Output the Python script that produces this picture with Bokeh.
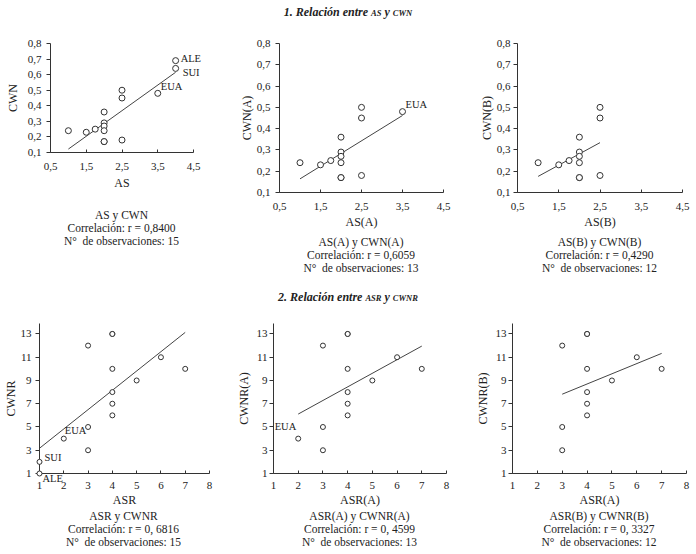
import numpy as np
from bokeh.plotting import figure
from bokeh.models import Div, FixedTicker, Range1d, ColumnDataSource
from bokeh.core.properties import value
from bokeh.layouts import row, column
from bokeh.embed import file_html
from bokeh.resources import INLINE

# ---------------- data ----------------
as_vals = [1, 1.5, 1.75, 2, 2, 2, 2, 2, 2, 2.5, 2.5, 2.5, 3.5, 4, 4]
cwn_vals = [0.24, 0.23, 0.25, 0.36, 0.29, 0.27, 0.24, 0.17, 0.17, 0.50, 0.45, 0.18, 0.48, 0.69, 0.64]
as_names = ["", "", "", "", "", "", "", "", "", "", "", "", "EUA", "ALE", "SUI"]

asr_vals = [1, 1, 2, 3, 3, 3, 4, 4, 4, 4, 4, 4, 5, 6, 7]
cwnr_vals = [1, 2, 4, 12, 5, 3, 13, 13, 10, 8, 7, 6, 9, 11, 10]
asr_names = ["ALE", "SUI", "EUA", "", "", "", "", "", "", "", "", "", "", "", ""]

excl_A = ["ALE", "SUI"]
excl_B = ["ALE", "SUI", "EUA"]

as_xticks = [0.5, 1.5, 2.5, 3.5, 4.5]
as_xtick_labels = ["0,5", "1,5", "2,5", "3,5", "4,5"]
cwn_yticks = [0.1, 0.2, 0.3, 0.4, 0.5, 0.6, 0.7, 0.8]
cwn_ytick_labels = ["0,1", "0,2", "0,3", "0,4", "0,5", "0,6", "0,7", "0,8"]
asr_xticks = [1, 2, 3, 4, 5, 6, 7, 8]
asr_xtick_labels = ["1", "2", "3", "4", "5", "6", "7", "8"]
cwnr_yticks = [1, 3, 5, 7, 9, 11, 13]
cwnr_ytick_labels = ["1", "3", "5", "7", "9", "11", "13"]

title1_parts = ["1. Relación entre ", "AS", " y ", "CWN"]
title2_parts = ["2. Relación entre ", "ASR", " y ", "CWNR"]

cap1 = ["AS y CWN", "Correlación: r = 0,8400", "N°  de observaciones: 15"]
cap2 = ["AS(A) y CWN(A)", "Correlación: r = 0,6059", "N°  de observaciones: 13"]
cap3 = ["AS(B) y CWN(B)", "Correlación: r = 0,4290", "N°  de observaciones: 12"]
cap4 = ["ASR y CWNR", "Correlación: r = 0, 6816", "N°  de observaciones: 15"]
cap5 = ["ASR(A) y CWNR(A)", "Correlación: r = 0, 4599", "N°  de observaciones: 13"]
cap6 = ["ASR(B) y CWNR(B)", "Correlación: r = 0, 3327", "N°  de observaciones: 12"]

FONT = "Liberation Serif"
TXT = "#222222"


def subset(xs, ys, names, excl):
    keep = [i for i, n in enumerate(names) if n not in excl]
    return [xs[i] for i in keep], [ys[i] for i in keep], [names[i] for i in keep]


def panel(xs, ys, names, xr, yr, xticks, xtl, yticks, ytl, xlabel, ylabel,
          w, h, mbl, mbr, mbt, mbb, msize, xst, xls, yst, yls, offsets):
    p = figure(width=w, height=h, x_range=Range1d(*xr), y_range=Range1d(*yr),
               output_backend="svg", toolbar_location=None,
               min_border_left=mbl, min_border_right=mbr,
               min_border_top=mbt, min_border_bottom=mbb, frame_align=False)
    p.grid.visible = False
    p.outline_line_color = None
    p.background_fill_color = "white"
    p.border_fill_color = "white"

    k, b = np.polyfit(np.array(xs, float), np.array(ys, float), 1)
    x0, x1 = min(xs), max(xs)
    p.line([x0, x1], [k * x0 + b, k * x1 + b], line_color="#444444", line_width=1)
    p.scatter(xs, ys, marker="circle", size=msize, fill_color="white",
              line_color="#333333", line_width=1, level="overlay")

    for al in ("left", "right"):
        sel = [i for i, n in enumerate(names) if n and n in offsets and offsets[n][2] == al]
        if not sel:
            continue
        src = ColumnDataSource(dict(
            x=[xs[i] for i in sel], y=[ys[i] for i in sel], t=[names[i] for i in sel],
            dx=[offsets[names[i]][0] for i in sel], dy=[offsets[names[i]][1] for i in sel]))
        p.text(x="x", y="y", text="t", x_offset="dx", y_offset="dy", source=src,
               text_font=value(FONT), text_font_size="10.5px", text_color=TXT,
               text_baseline="middle", text_align=al, level="overlay")

    for ax, ticks, labels in ((p.xaxis[0], xticks, xtl), (p.yaxis[0], yticks, ytl)):
        ax.ticker = FixedTicker(ticks=ticks)
        ax.major_label_overrides = {t: l for t, l in zip(ticks, labels)}
        ax.minor_tick_line_color = None
        ax.axis_line_color = "#333333"
        ax.major_tick_line_color = "#333333"
        ax.major_label_text_font = FONT
        ax.major_label_text_font_size = "11px"
        ax.major_label_text_color = TXT
        ax.axis_label_text_font = FONT
        ax.axis_label_text_font_size = "12px"
        ax.axis_label_text_font_style = "normal"
        ax.axis_label_text_color = TXT
    p.xaxis.axis_label = xlabel
    p.yaxis.axis_label = ylabel
    p.xaxis.major_tick_in = 3
    p.xaxis.major_tick_out = 0
    p.xaxis.major_label_standoff = xst
    p.xaxis.axis_label_standoff = xls
    p.yaxis.major_tick_in = 0
    p.yaxis.major_tick_out = 4
    p.yaxis.major_label_standoff = yst
    p.yaxis.axis_label_standoff = yls
    return p


def caption(lines, width, left, lh, height):
    html = "<br>".join(l.replace("  ", "&nbsp; ") for l in lines)
    return Div(text=html, width=width, height=height, margin=(0, 0, 0, left),
               styles={"font-family": FONT, "font-size": "11.5px", "line-height": lh,
                       "text-align": "center", "color": TXT})


def heading(parts, height):
    html = ("<b><i>%s<span style='font-size:8.5px'>%s</span>%s"
            "<span style='font-size:8.5px'>%s</span></i></b>") % tuple(parts)
    return Div(text=html, width=696, height=height, margin=(0, 0, 0, 0),
               styles={"font-family": FONT, "font-size": "12px", "line-height": "%dpx" % height,
                       "text-align": "center", "color": TXT, "width": "696px"})


off_as = {"ALE": (5, -2, "left"), "SUI": (7, 4, "left"), "EUA": (3, -7, "left")}
off_asr = {"ALE": (3, 5, "left"), "SUI": (5, -4, "left"), "EUA": (1, -8, "left")}
off_asr_a = {"EUA": (-2, -12, "right")}

xa, ya, na = subset(as_vals, cwn_vals, as_names, excl_A)
xb, yb, nb = subset(as_vals, cwn_vals, as_names, excl_B)
rxa, rya, rna = subset(asr_vals, cwnr_vals, asr_names, excl_A)
rxb, ryb, rnb = subset(asr_vals, cwnr_vals, asr_names, excl_B)

# row 1 (canvas x: 0..230, 230..470, 470..696)
f1 = panel(as_vals, cwn_vals, as_names, (0.5, 4.5), (0.1, 0.8), as_xticks, as_xtick_labels,
           cwn_yticks, cwn_ytick_labels, "AS", "CWN", 230, 185, 50, 37, 19, 57, 6,
           10, 3, 5, 5, off_as)
f2 = panel(xa, ya, na, (0.5, 4.5), (0.1, 0.8), as_xticks, as_xtick_labels,
           cwn_yticks, cwn_ytick_labels, "AS(A)", "CWN(A)", 240, 212, 49, 27, 19, 44, 6,
           10, 2, 5, 0, off_as)
f3 = panel(xb, yb, nb, (0.5, 4.5), (0.1, 0.8), as_xticks, as_xtick_labels,
           cwn_yticks, cwn_ytick_labels, "AS(B)", "CWN(B)", 226, 212, 47, 14, 19, 44, 6,
           10, 2, 3, 0, off_as)

# row 2
f4 = panel(asr_vals, cwnr_vals, asr_names, (1, 8), (1, 13.9), asr_xticks, asr_xtick_labels,
           cwnr_yticks, cwnr_ytick_labels, "ASR", "CWNR", 230, 191, 38, 21, 4, 37, 5,
           8, 1, 4, 0, off_asr)
f5 = panel(rxa, rya, rna, (1, 8), (1, 13.9), asr_xticks, asr_xtick_labels,
           cwnr_yticks, cwnr_ytick_labels, "ASR(A)", "CWNR(A)", 240, 191, 43, 24, 4, 37, 5,
           8, 1, 2, 3, off_asr_a)
f6 = panel(rxb, ryb, rnb, (1, 8), (1, 13.9), asr_xticks, asr_xtick_labels,
           cwnr_yticks, cwnr_ytick_labels, "ASR(A)", "CWNR(B)", 226, 191, 42, 10, 4, 37, 5,
           8, 1, 2, 3, {})

c1 = column(f1, caption(cap1, 143, 50, "13px", 39), spacing=0)
c2 = column(f2, caption(cap2, 164, 49, "13px", 39), spacing=0)
c3 = column(f3, caption(cap3, 165, 47, "13px", 39), spacing=0)
c4 = column(f4, caption(cap4, 171, 38, "13px", 39), spacing=0)
c5 = column(f5, caption(cap5, 173, 43, "13px", 39), spacing=0)
c6 = column(f6, caption(cap6, 174, 42, "13px", 39), spacing=0)

layout = column(heading(title1_parts, 24), row(c1, c2, c3, spacing=0),
                heading(title2_parts, 44), row(c4, c5, c6, spacing=0), spacing=0)

open("out.html", "w").write(file_html(layout, INLINE))
